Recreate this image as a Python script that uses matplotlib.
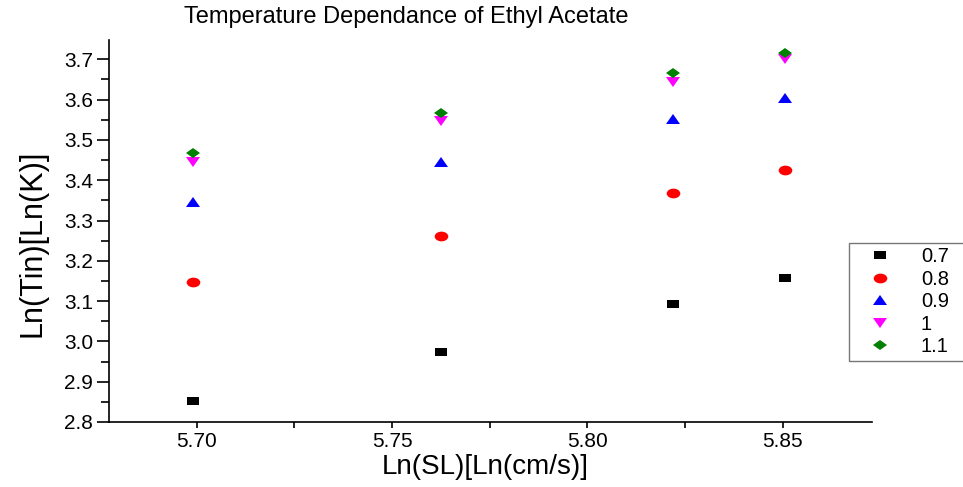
import matplotlib
matplotlib.use("Agg")
import matplotlib.pyplot as plt
from matplotlib.markers import MarkerStyle
from matplotlib.transforms import Affine2D
from matplotlib.ticker import MultipleLocator, FormatStrFormatter

# Ln of laminar flame speed (x) for each equivalence ratio series
ln_sl = [5.699, 5.7625, 5.822, 5.8505]

# Ln of inlet temperature per equivalence ratio
phi_labels = ["0.7", "0.8", "0.9", "1", "1.1"]
ln_tin_07 = [2.852, 2.973, 3.094, 3.157]
ln_tin_08 = [3.147, 3.262, 3.368, 3.425]
ln_tin_09 = [3.345, 3.445, 3.552, 3.604]
ln_tin_10 = [3.446, 3.546, 3.644, 3.702]
ln_tin_11 = [3.468, 3.566, 3.666, 3.716]

series = [ln_tin_07, ln_tin_08, ln_tin_09, ln_tin_10, ln_tin_11]
markers = ["s", "o", "^", "v", "D"]
colors = ["#000000", "#ff0000", "#0000ff", "#ff00ff", "#008000"]
sizes = [6.3, 7.0, 6.8, 6.8, 5.0]

plt.rcParams["font.family"] = ["Liberation Sans", "DejaVu Sans"]

fig = plt.figure(figsize=(9.63, 4.87), dpi=100)
ax = fig.add_axes([109 / 963, 1 - 422 / 487, (872 - 109) / 963, (422 - 40) / 487])

stretch = Affine2D().scale(1.4, 1.0)
for ys, m, c, s, lab in zip(series, markers, colors, sizes, phi_labels):
    ax.plot(ln_sl, ys, linestyle="none",
            marker=MarkerStyle(m, transform=stretch),
            markersize=s, color=c, markeredgewidth=0, label=lab)

ax.set_xlim(5.6776, 5.8728)
ax.set_ylim(2.8, 3.748)

ax.xaxis.set_major_locator(MultipleLocator(0.05))
ax.xaxis.set_minor_locator(MultipleLocator(0.025))
ax.yaxis.set_major_locator(MultipleLocator(0.1))
ax.yaxis.set_minor_locator(MultipleLocator(0.05))
ax.xaxis.set_major_formatter(FormatStrFormatter("%.2f"))
ax.yaxis.set_major_formatter(FormatStrFormatter("%.1f"))

for side in ("top", "right"):
    ax.spines[side].set_visible(False)
for side in ("left", "bottom"):
    ax.spines[side].set_linewidth(1.2)

ax.tick_params(axis="x", which="major", direction="out", length=4.5, width=1.2,
               labelsize=15, pad=3)
ax.tick_params(axis="x", which="minor", direction="out", length=4.5, width=1.2)
ax.tick_params(axis="y", which="major", direction="out", length=8.5, width=1.2,
               labelsize=15, pad=3)
ax.tick_params(axis="y", which="minor", direction="out", length=5.5, width=1.2)

ax.set_xlabel("Ln(SL)[Ln(cm/s)]", fontsize=20)
ax.xaxis.set_label_coords((485 - 109) / 763, -(454 - 422) / 382)
ax.set_ylabel("Ln(Tin)[Ln(K)]", fontsize=22)
ax.yaxis.set_label_coords((48 - 109) / 763, (422 - 243) / 382)

fig.text(406 / 963, 1 - 17 / 487, "Temperature Dependance of Ethyl Acetate",
         ha="center", va="center", fontsize=17)

leg = ax.legend(loc="upper left",
                bbox_to_anchor=(849 / 963, 1 - 243 / 487, 130 / 963, 0),
                bbox_transform=fig.transFigure, borderaxespad=0, mode="expand",
                fontsize=14.5, numpoints=1, handlelength=2.6, handletextpad=0.75,
                labelspacing=0.17, borderpad=0.22, fancybox=False, frameon=True)
leg.get_frame().set_edgecolor("#555555")
leg.get_frame().set_linewidth(1.0)

fig.savefig("out.png", dpi=100)
